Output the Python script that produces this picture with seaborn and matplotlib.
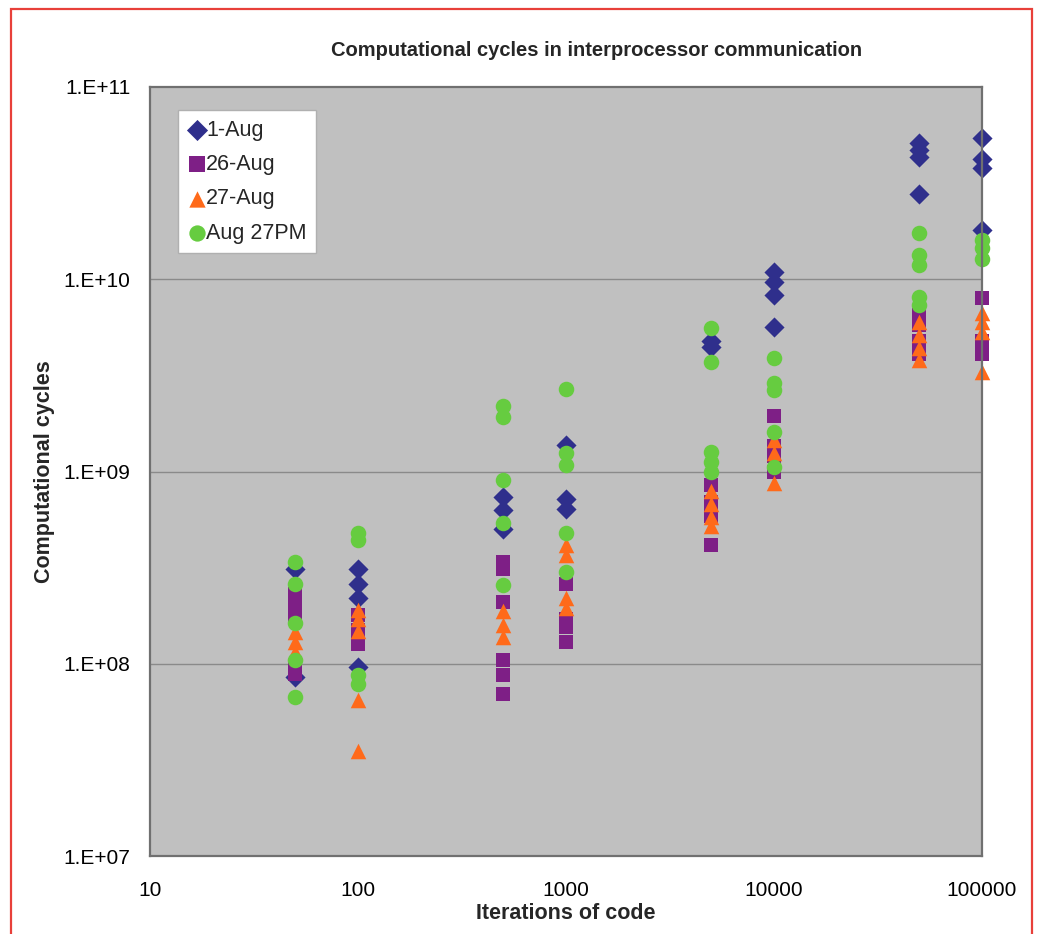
import numpy as np
import pandas as pd
import matplotlib
matplotlib.use("Agg")
import matplotlib.pyplot as plt
import matplotlib.ticker as mticker
from matplotlib.patches import Rectangle
import seaborn as sns

# ---------------- data ----------------
series_names = ["1-Aug", "26-Aug", "27-Aug", "Aug 27PM"]

aug1_x = [50, 50, 100, 100, 100, 100, 500, 500, 500, 1000, 1000, 1000,
          5000, 5000, 10000, 10000, 10000, 10000,
          50000, 50000, 50000, 50000, 100000, 100000, 100000, 100000]
aug1_y = [3.1e8, 8.5e7, 3.1e8, 2.6e8, 2.2e8, 9.6e7, 7.4e8, 6.3e8, 5.0e8, 1.37e9, 7.2e8, 6.4e8,
          4.8e9, 4.45e9, 1.09e10, 9.7e9, 8.3e9, 5.65e9,
          5.1e10, 4.7e10, 4.3e10, 2.77e10, 5.4e10, 4.2e10, 3.8e10, 1.8e10]

aug26_x = [50, 50, 50, 50, 50, 100, 100, 100, 500, 500, 500, 500, 500, 500,
           1000, 1000, 1000, 1000, 5000, 5000, 5000, 5000,
           10000, 10000, 10000, 10000, 50000, 50000, 50000, 50000,
           100000, 100000, 100000]
aug26_y = [2.3e8, 2.0e8, 1.8e8, 9.6e7, 8.8e7, 1.8e8, 1.5e8, 1.26e8,
           3.4e8, 3.1e8, 2.1e8, 1.05e8, 8.7e7, 7.0e7,
           2.6e8, 1.7e8, 1.55e8, 1.3e8, 8.5e8, 6.9e8, 5.9e8, 4.15e8,
           1.95e9, 1.35e9, 1.2e9, 1.0e9, 6.5e9, 5.8e9, 4.8e9, 4.1e9,
           8.0e9, 4.8e9, 4.1e9]

aug27_x = [50, 50, 50, 100, 100, 100, 100, 100, 500, 500, 500,
           1000, 1000, 1000, 1000, 5000, 5000, 5000, 5000,
           10000, 10000, 10000, 50000, 50000, 50000, 50000,
           100000, 100000, 100000, 100000]
aug27_y = [1.46e8, 1.3e8, 1.15e8, 1.9e8, 1.7e8, 1.48e8, 6.5e7, 3.5e7, 1.87e8, 1.6e8, 1.38e8,
           4.15e8, 3.7e8, 2.2e8, 1.95e8, 7.9e8, 6.8e8, 5.8e8, 5.2e8,
           1.45e9, 1.25e9, 8.7e8, 6.0e9, 5.1e9, 4.4e9, 3.8e9,
           6.7e9, 6.0e9, 5.3e9, 3.3e9]

aug27pm_x = [50, 50, 50, 50, 50, 100, 100, 100, 100, 500, 500, 500, 500, 500,
             1000, 1000, 1000, 1000, 1000, 5000, 5000, 5000, 5000, 5000,
             10000, 10000, 10000, 10000, 10000, 50000, 50000, 50000, 50000, 50000,
             100000, 100000, 100000]
aug27pm_y = [3.4e8, 2.6e8, 1.63e8, 1.05e8, 6.7e7, 4.8e8, 4.4e8, 8.7e7, 7.8e7,
             2.2e9, 1.92e9, 9.0e8, 5.4e8, 2.57e8,
             2.7e9, 1.25e9, 1.08e9, 4.8e8, 3.0e8,
             5.6e9, 3.7e9, 1.26e9, 1.12e9, 9.9e8,
             3.9e9, 2.9e9, 2.65e9, 1.6e9, 1.05e9,
             1.74e10, 1.34e10, 1.19e10, 8.1e9, 7.35e9,
             1.6e10, 1.45e10, 1.28e10]

x_ticks = [10, 100, 1000, 10000, 100000]
x_tick_labels = ["10", "100", "1000", "10000", "100000"]
y_ticks = [1e7, 1e8, 1e9, 1e10, 1e11]
y_tick_labels = ["1.E+07", "1.E+08", "1.E+09", "1.E+10", "1.E+11"]

title = "Computational cycles in interprocessor communication"
x_label = "Iterations of code"
y_label = "Computational cycles"

# ---------------- build table ----------------
frames = []
for name, xs, ys in zip(series_names,
                        [aug1_x, aug26_x, aug27_x, aug27pm_x],
                        [aug1_y, aug26_y, aug27_y, aug27pm_y]):
    frames.append(pd.DataFrame({"x": xs, "y": ys, "series": name}))
df = pd.concat(frames, ignore_index=True)

palette = {"1-Aug": "#2f2f8c", "26-Aug": "#7e1f86", "27-Aug": "#ff6a1a", "Aug 27PM": "#66cc40"}
markers = {"1-Aug": "D", "26-Aug": "s", "27-Aug": "^", "Aug 27PM": "o"}
sizes = {"1-Aug": 105, "26-Aug": 115, "27-Aug": 125, "Aug 27PM": 125}

sns.set_style("white")
plt.rcParams["font.family"] = ["Liberation Sans", "DejaVu Sans"]

fig = plt.figure(figsize=(10.39, 9.34), dpi=100)
ax = fig.add_axes([150 / 1039, 1 - 856 / 934, (982 - 150) / 1039, (856 - 87) / 934])
ax.set_facecolor("#c0c0c0")

for name in series_names:
    sub = df[df["series"] == name]
    sns.scatterplot(data=sub, x="x", y="y", ax=ax, color=palette[name],
                    marker=markers[name], s=sizes[name], linewidth=0,
                    label=name, zorder=3, clip_on=False)

ax.set_xscale("log")
ax.set_yscale("log")
ax.set_xlim(10, 100000)
ax.set_ylim(1e7, 1e11)

ax.xaxis.set_major_locator(mticker.FixedLocator(x_ticks))
ax.xaxis.set_major_formatter(mticker.FixedFormatter(x_tick_labels))
ax.xaxis.set_minor_locator(mticker.NullLocator())
ax.yaxis.set_major_locator(mticker.FixedLocator(y_ticks))
ax.yaxis.set_major_formatter(mticker.FixedFormatter(y_tick_labels))
ax.yaxis.set_minor_locator(mticker.NullLocator())

ax.tick_params(axis="both", which="major", direction="out", length=6, width=1,
               color="#808080", labelsize=15, labelcolor="black", pad=8)
ax.tick_params(axis="x", pad=12)

ax.grid(False)
for yv in y_ticks[1:-1]:
    ax.axhline(yv, color="#8a8a8a", linewidth=1.0, zorder=1)

for sp in ax.spines.values():
    sp.set_visible(True)
    sp.set_color("#707070")
    sp.set_linewidth(1.6)
    sp.set_zorder(4)

ax.set_xlabel(x_label, fontsize=15.5, fontweight="bold", labelpad=2)
ax.set_ylabel(y_label, fontsize=15.5, fontweight="bold", labelpad=6)

fig.text(597 / 1039, 1 - 50 / 934, title, fontsize=14.5, fontweight="bold",
         ha="center", va="center")

leg = ax.legend(loc="upper left", bbox_to_anchor=(0.034, 0.970), borderaxespad=0,
                fontsize=15.5, frameon=True, fancybox=False, framealpha=1,
                edgecolor="#b0b0b0", facecolor="white", handletextpad=0.05,
                handlelength=0.8, labelspacing=0.62, borderpad=0.45,
                markerscale=1.05)
leg.get_frame().set_linewidth(1.0)
leg.set_zorder(6)

# red outer frame
fig.patches.append(Rectangle((11 / 1039, -0.01), (1032 - 11) / 1039, 1.01 - 9 / 934,
                             transform=fig.transFigure, fill=False,
                             edgecolor="#e8403a", linewidth=1.6, zorder=10))

fig.savefig("out.png", dpi=100, facecolor="white")
